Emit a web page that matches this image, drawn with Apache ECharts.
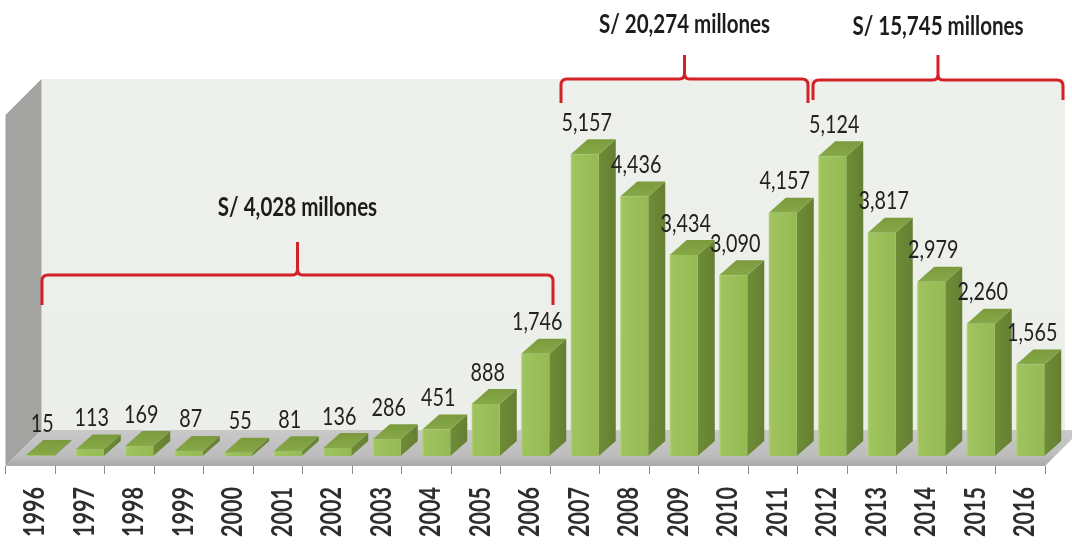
<!DOCTYPE html>
<html>
<head>
<meta charset="utf-8">
<script src="https://cdn.jsdelivr.net/npm/echarts@6/dist/echarts.min.js"></script>
<style>
  html, body { margin: 0; padding: 0; background: #ffffff; }
  #chart { width: 1072px; height: 549px; }
</style>
</head>
<body>
<div id="chart"></div>
<script>
// Investment per year (millions of soles)
const years = ['1996', '1997', '1998', '1999', '2000', '2001', '2002', '2003', '2004', '2005', '2006',
               '2007', '2008', '2009', '2010', '2011', '2012', '2013', '2014', '2015', '2016'];
const investment = [15, 113, 169, 87, 55, 81, 136, 286, 451, 888, 1746,
                    5157, 4436, 3434, 3090, 4157, 5124, 3817, 2979, 2260, 1565];

// Periods grouped by brackets, with their totals
const periodFirst = ['1996', '2007', '2012'];
const periodLast = ['2006', '2011', '2016'];
const periodTotals = ['4,028', '20,274', '15,745'];

const FONT = 'Lato, "Open Sans", sans-serif';
const NARROW = 0.79;   // horizontal squeeze giving the condensed lettering

// 3D look: floor depth, bar offset from the front plane, bar depth
const FLOOR_D = 36;
const BAR_OFF = 10;
const BAR_DX = 17, BAR_DY = 15;

// bracket drawing parameters: offsets from band edges, line level, leg and nub lengths
const bracketLayout = [
  { dl: 36.5, dr: 3, y: 275, leg: 30, nub: 33, gap: 34 },
  { dl: 11, dr: 10.5, y: 79, leg: 24, nub: 24, gap: 30 },
  { dl: 15.5, dr: 18, y: 80, leg: 20, nub: 25, gap: 28 }
];

const fmt = v => v.toLocaleString('en-US');

const chart = echarts.init(document.getElementById('chart'), null, { renderer: 'canvas' });

// walls and floor
function renderRoom(params, api) {
  const cs = params.coordSys;
  const x = cs.x, y = cs.y, w = cs.width, h = cs.height;
  const D = FLOOR_D;
  return {
    type: 'group',
    children: [
      {
        type: 'polygon',
        shape: { points: [[x + D, y - D], [x + w + 20, y - D], [x + w + 20, y + h - D], [x + D, y + h - D]] },
        style: {
          fill: new echarts.graphic.LinearGradient(0, 0, 0, 1, [
            { offset: 0, color: '#eef0eb' }, { offset: 1, color: '#eceee9' }
          ])
        }
      },
      {
        type: 'polygon',
        shape: { points: [[x, y], [x + D, y - D], [x + D, y + h - D], [x, y + h]] },
        style: { fill: '#a3a4a1' }
      },
      {
        type: 'polygon',
        shape: { points: [[x, y + h], [x + D, y + h - D], [x + w + D, y + h - D], [x + w, y + h]] },
        style: {
          fill: new echarts.graphic.LinearGradient(0, 0, 0, 1, [
            { offset: 0, color: '#c9c9c9' }, { offset: 0.7, color: '#bdbdbd' }, { offset: 1, color: '#a9a9a9' }
          ])
        }
      }
    ]
  };
}

function renderBar(params, api) {
  const idx = api.value(0), val = api.value(1);
  const base = api.coord([idx, 0]);
  const top = api.coord([idx, val]);
  const bw = api.size([1, 0])[0] * 0.566;
  const x0 = base[0] - bw / 2 + BAR_OFF, x1 = x0 + bw;
  const yb = base[1] - BAR_OFF, yt = top[1] - BAR_OFF;
  return {
    type: 'group',
    children: [
      {
        type: 'polygon',
        shape: { points: [[x1, yt], [x1 + BAR_DX, yt - BAR_DY], [x1 + BAR_DX, yb - BAR_DY], [x1, yb]] },
        style: {
          fill: new echarts.graphic.LinearGradient(0, 0, 1, 0, [
            { offset: 0, color: '#6e8d36' }, { offset: 1, color: '#657f33' }
          ])
        }
      },
      {
        type: 'polygon',
        shape: { points: [[x0, yt], [x0 + BAR_DX, yt - BAR_DY], [x1 + BAR_DX, yt - BAR_DY], [x1, yt]] },
        style: {
          fill: new echarts.graphic.LinearGradient(0, 1, 0, 0, [
            { offset: 0, color: '#88a948' }, { offset: 1, color: '#7a9a3d' }
          ])
        }
      },
      {
        type: 'rect',
        shape: { x: x0, y: yt, width: bw, height: Math.max(yb - yt, 0) },
        style: {
          fill: new echarts.graphic.LinearGradient(0, 0, 1, 0, [
            { offset: 0, color: '#b3d276' }, { offset: 0.08, color: '#9fc35e' },
            { offset: 1, color: '#95ba53' }
          ])
        }
      }
    ]
  };
}

// value above each bar and the year under the floor
function renderLabels(params, api) {
  const idx = api.value(0), val = api.value(1);
  const base = api.coord([idx, 0]);
  const top = api.coord([idx, val]);
  return {
    type: 'group',
    children: [
      {
        type: 'text',
        x: base[0] + 12,
        y: top[1] - 29,
        scaleX: NARROW,
        style: {
          text: fmt(val),
          x: 0, y: 0,
          align: 'center',
          verticalAlign: 'bottom',
          font: '25px ' + FONT,
          fill: '#222222'
        }
      },
      {
        type: 'text',
        x: base[0] + 5,
        y: base[1] + 21,
        rotation: Math.PI / 2,
        scaleX: 0.77,
        style: {
          text: years[idx],
          x: 0, y: 0,
          align: 'right',
          verticalAlign: 'middle',
          font: 'bold 28px ' + FONT,
          fill: '#2e2e2e'
        }
      }
    ]
  };
}

function renderBracket(params, api) {
  const i = params.dataIndex;
  const L = bracketLayout[i];
  const a = api.value(0), b = api.value(1);
  const band = api.size([1, 0])[0];
  const xl = api.coord([a, 0])[0] - band / 2 + L.dl;
  const xr = api.coord([b, 0])[0] + band / 2 + L.dr;
  const xc = (xl + xr) / 2;
  const y = L.y, r = 6;
  const d = [
    'M', xl, y + L.leg,
    'L', xl, y + r,
    'Q', xl, y, xl + r, y,
    'L', xc - 5, y,
    'Q', xc, y, xc, y - 6,
    'L', xc, y - L.nub,
    'M', xc, y - 6,
    'Q', xc, y, xc + 5, y,
    'L', xr - r, y,
    'Q', xr, y, xr, y + r,
    'L', xr, y + L.leg
  ].join(' ');
  return {
    type: 'group',
    children: [
      {
        type: 'path',
        shape: { pathData: d },
        style: { fill: null, stroke: '#d42027', lineWidth: 3 }
      },
      {
        type: 'text',
        x: xc,
        y: y - L.nub - L.gap,
        scaleX: NARROW,
        style: {
          text: 'S/ ' + periodTotals[i] + ' millones',
          x: 0, y: 0,
          align: 'center',
          verticalAlign: 'middle',
          font: 'bold 26px ' + FONT,
          fill: '#1c1c1c'
        }
      }
    ]
  };
}

const barData = years.map((y, i) => [i, investment[i]]);
const bracketData = periodFirst.map((f, i) => [years.indexOf(f), years.indexOf(periodLast[i])]);

chart.setOption({
  animation: false,
  backgroundColor: '#ffffff',
  grid: { left: 5.5, right: 27, top: 115, bottom: 83, containLabel: false, outerBoundsMode: 'none' },
  xAxis: {
    type: 'category',
    data: years,
    axisLine: { show: false },
    axisTick: { show: true, length: 8, lineStyle: { color: '#8a8a8a', width: 1 } },
    axisLabel: { show: false }
  },
  yAxis: {
    type: 'value',
    min: 0,
    max: 6000,
    show: false,
    splitLine: { show: false }
  },
  series: [
    {
      type: 'custom',
      name: 'room',
      z: 1,
      silent: true,
      data: [[0, 0]],
      renderItem: renderRoom
    },
    {
      type: 'custom',
      name: 'Inversión',
      z: 2,
      data: barData,
      encode: { x: 0, y: 1 },
      renderItem: renderBar
    },
    {
      type: 'custom',
      name: 'labels',
      z: 3,
      silent: true,
      data: barData,
      encode: { x: 0, y: 1 },
      renderItem: renderLabels
    },
    {
      type: 'custom',
      name: 'periods',
      z: 4,
      silent: true,
      data: bracketData,
      encode: { x: [0, 1] },
      renderItem: renderBracket
    }
  ]
});
</script>
</body>
</html>
